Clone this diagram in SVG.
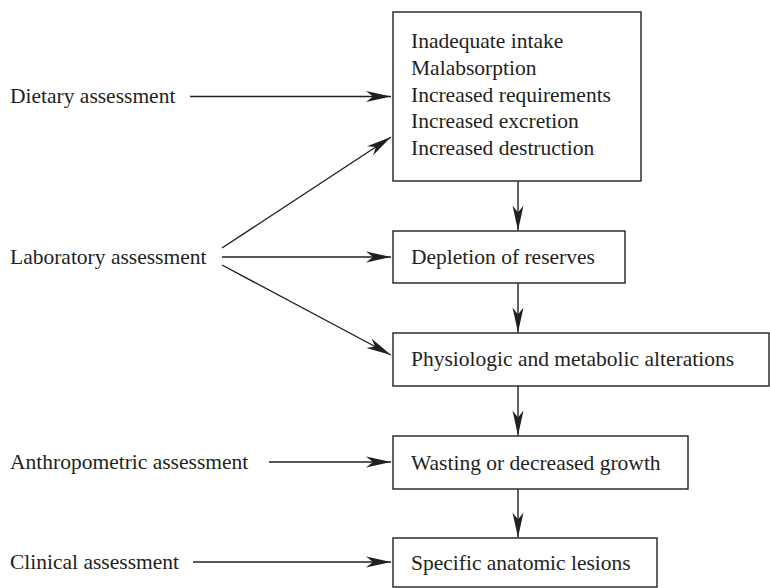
<svg xmlns="http://www.w3.org/2000/svg" width="770" height="588" viewBox="0 0 770 588">
<style>
  text { font-family: "Liberation Serif", "Times New Roman", serif; font-size: 21.5px; fill: #231f20; }
  .box { fill: #ffffff; stroke: #231f20; stroke-width: 1.4; }
  .conn { stroke: #231f20; stroke-width: 1.4; fill: none; marker-end: url(#arrow); }
</style>
<defs>
  <marker id="arrow" viewBox="-26 -7 28 14" refX="0" refY="0" markerWidth="28" markerHeight="14" markerUnits="userSpaceOnUse" orient="auto" overflow="visible">
    <path d="M0,0 L-25,-5.5 L-18,0 L-25,5.5 Z" fill="#231f20"/>
  </marker>
</defs>
<rect width="770" height="588" fill="#ffffff"/>
<g id="connectors">
  <line class="conn" x1="190" y1="96.5" x2="391" y2="96.5"/>
  <line class="conn" x1="222" y1="248" x2="391" y2="137"/>
  <line class="conn" x1="222" y1="257" x2="391" y2="257"/>
  <line class="conn" x1="222" y1="265" x2="391" y2="355"/>
  <line class="conn" x1="269" y1="462" x2="391" y2="462"/>
  <line class="conn" x1="193" y1="562" x2="391" y2="562"/>
  <line class="conn" x1="518" y1="181" x2="518" y2="230.5"/>
  <line class="conn" x1="518" y1="283" x2="518" y2="332.5"/>
  <line class="conn" x1="518" y1="386" x2="518" y2="435.5"/>
  <line class="conn" x1="518" y1="489" x2="518" y2="537.5"/>
</g>
<g id="label-dietary"><text x="10" y="103">Dietary assessment</text></g>
<g id="label-laboratory"><text x="10" y="264">Laboratory assessment</text></g>
<g id="label-anthropometric"><text x="10" y="469">Anthropometric assessment</text></g>
<g id="label-clinical"><text x="10" y="569">Clinical assessment</text></g>
<g id="node-causes">
  <rect class="box" x="393" y="12" width="248" height="169"/>
  <text x="411" y="48">Inadequate intake</text>
  <text x="411" y="75">Malabsorption</text>
  <text x="411" y="101.7">Increased requirements</text>
  <text x="411" y="128.3">Increased excretion</text>
  <text x="411" y="155">Increased destruction</text>
</g>
<g id="node-depletion">
  <rect class="box" x="393" y="231" width="232" height="52"/>
  <text x="411" y="264">Depletion of reserves</text>
</g>
<g id="node-physiologic">
  <rect class="box" x="393" y="333" width="376" height="53"/>
  <text x="411" y="366">Physiologic and metabolic alterations</text>
</g>
<g id="node-wasting">
  <rect class="box" x="393" y="436" width="295" height="53"/>
  <text x="411" y="469.5">Wasting or decreased growth</text>
</g>
<g id="node-lesions">
  <rect class="box" x="393" y="538" width="264" height="49"/>
  <text x="411" y="570">Specific anatomic lesions</text>
</g>
</svg>
